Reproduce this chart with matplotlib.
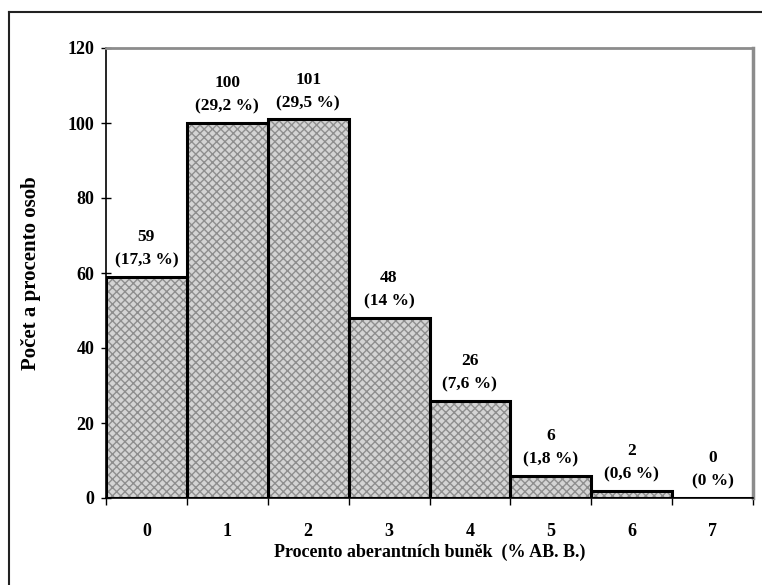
#!/usr/bin/env python3

import matplotlib.pyplot as plt
from matplotlib.lines import Line2D

categories = [0, 1, 2, 3, 4, 5, 6, 7]
counts = [59, 100, 101, 48, 26, 6, 2, 0]
percents = ["17,3 %", "29,2 %", "29,5 %", "14 %", "7,6 %", "1,8 %", "0,6 %", "0 %"]

plt.rcParams["font.family"] = ["Liberation Serif", "DejaVu Serif"]
plt.rcParams["font.weight"] = "bold"

W, H = 762, 585
fig = plt.figure(figsize=(W / 100, H / 100), dpi=100)
ax = fig.add_axes([106 / W, 1 - 498 / H, (753 - 106) / W, (498 - 48) / H])

# pattern layer, then black outline on top
ax.bar(categories, counts, width=1.0, color="#d4d4d4", edgecolor="#8e8e8e",
       hatch="xxxx", linewidth=0, zorder=2)
ax.bar(categories, counts, width=1.0, fill=False, edgecolor="black",
       linewidth=2.2, zorder=3)

for x, n, p in zip(categories, counts, percents):
    ax.annotate(f"{n}\n({p})", (x, n), xytext=(0, 6), textcoords="offset points",
                ha="center", va="bottom", fontsize=12.5, fontweight="bold",
                linespacing=1.6)

ax.set_xlim(-0.5, 7.5)
ax.set_ylim(0, 120)
ax.set_yticks(range(0, 121, 20))
ax.set_xticks(categories)
ax.set_xticks([c - 0.5 for c in categories] + [7.5], minor=True)
ax.tick_params(axis="x", which="major", length=0, pad=18, labelsize=13)
ax.tick_params(axis="x", which="minor", length=5, direction="out", width=1)
ax.tick_params(axis="y", length=7, direction="inout", width=1, pad=5, labelsize=13)

ax.spines["left"].set_linewidth(1.2)
ax.spines["bottom"].set_linewidth(1.2)
ax.spines["top"].set_color("#8c8c8c")
ax.spines["top"].set_linewidth(2)
ax.spines["right"].set_color("#8c8c8c")
ax.spines["right"].set_linewidth(2.5)

ax.set_ylabel("Počet a procento osob", fontsize=15, fontweight="bold", labelpad=19)
ax.set_xlabel("Procento aberantních buněk  (% AB. B.)", fontsize=13,
              fontweight="bold", labelpad=3)

# outer chart frame (cut off at right and bottom in the reference)
fig.add_artist(Line2D([9 / W, 9 / W], [0, 1 - 12 / H], color="#222222", lw=1.5))
fig.add_artist(Line2D([9 / W, 1], [1 - 12 / H, 1 - 12 / H], color="#222222", lw=1.5))

fig.savefig("out.png", dpi=100)
